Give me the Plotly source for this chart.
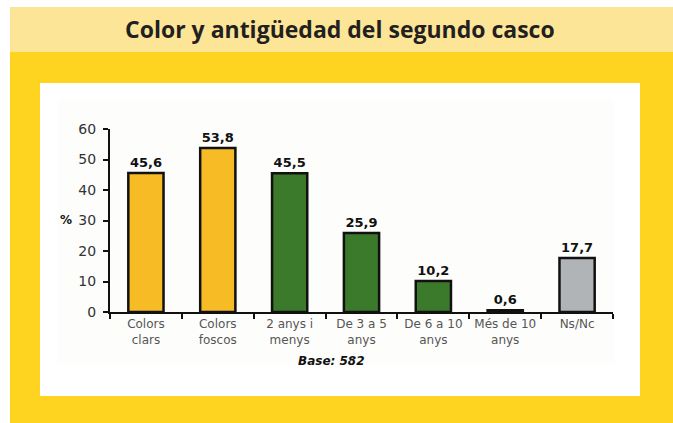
import plotly.graph_objects as go

categories = ["Colors<br>clars", "Colors<br>foscos", "2 anys i<br>menys", "De 3 a 5<br>anys",
              "De 6 a 10<br>anys", "Més de 10<br>anys", "Ns/Nc"]
values = [45.6, 53.8, 45.5, 25.9, 10.2, 0.6, 17.7]
bar_colors = ["#F7BB26", "#F7BB26", "#3C7A2B", "#3C7A2B", "#3C7A2B", "#3C7A2B", "#B0B4B7"]
y_ticks = [0, 10, 20, 30, 40, 50, 60]
value_labels = [f"{v:.1f}".replace(".", ",") for v in values]

W, H = 673, 423
ML, MR, MT, MB = 110, 60, 129, 111
PW, PH = W - ML - MR, H - MT - MB


def px(x):
    return (x - ML) / PW


def py(y):
    return (H - MB - y) / PH


fig = go.Figure()
fig.add_trace(go.Bar(
    x=categories, y=values, width=0.49,
    marker=dict(color=bar_colors, line=dict(color="#111111", width=2.5)),
    text=value_labels, textposition="outside", cliponaxis=False,
    textfont=dict(family="DejaVu Sans", size=13, color="#111111", weight="bold"),
    hoverinfo="skip",
))

shapes = [
    dict(type="rect", xref="paper", yref="paper", x0=px(10), x1=px(673), y0=py(7), y1=py(423),
         fillcolor="#FED420", line=dict(width=0), layer="below"),
    dict(type="rect", xref="paper", yref="paper", x0=px(10), x1=px(673), y0=py(7), y1=py(52),
         fillcolor="#FDE598", line=dict(width=0), layer="below"),
    dict(type="rect", xref="paper", yref="paper", x0=px(40), x1=px(640), y0=py(83), y1=py(396),
         fillcolor="#FFFFFF", line=dict(width=0), layer="below"),
    dict(type="rect", xref="paper", yref="paper", x0=px(58), x1=px(614), y0=py(100), y1=py(363),
         fillcolor="#FDFDFC", line=dict(width=0), layer="below"),
]

annotations = [
    dict(text="Color y antigüedad del segundo casco", xref="paper", yref="paper",
         x=px(340), y=py(29), xanchor="center", yanchor="middle", showarrow=False,
         font=dict(family="Open Sans", size=23, color="#231F20", weight="bold")),
    dict(text="%", xref="paper", yref="paper", x=px(66), y=py(220), xanchor="center",
         yanchor="middle", showarrow=False,
         font=dict(family="DejaVu Sans", size=12, color="#111111", weight="bold")),
    dict(text="<b><i>Base: 582</i></b>", xref="paper", yref="paper", x=px(331), y=py(361),
         xanchor="center", yanchor="middle", showarrow=False,
         font=dict(family="DejaVu Sans", size=12, color="#111111")),
]

fig.update_layout(
    width=W, height=H, margin=dict(l=ML, r=MR, t=MT, b=MB),
    paper_bgcolor="#FFFFFF", plot_bgcolor="rgba(0,0,0,0)",
    shapes=shapes, annotations=annotations, showlegend=False, bargap=0.5,
    xaxis=dict(showline=True, linecolor="#111111", linewidth=2, ticks="outside",
               tickson="boundaries", ticklen=5, tickwidth=2, tickcolor="#111111",
               tickangle=0,
               tickfont=dict(family="DejaVu Sans", size=12, color="#555555"),
               showgrid=False, fixedrange=True),
    yaxis=dict(range=[0, 60], tickvals=y_ticks, showline=True, linecolor="#111111",
               linewidth=2, ticks="outside", ticklen=5, tickwidth=2, tickcolor="#111111",
               ticklabelstandoff=4,
               tickfont=dict(family="DejaVu Sans", size=14, color="#333333"),
               showgrid=False, zeroline=False, fixedrange=True),
)

fig.write_html("out.html", config={"displayModeBar": False},
               post_script="document.body.style.margin='0';document.body.style.overflow='hidden';")
